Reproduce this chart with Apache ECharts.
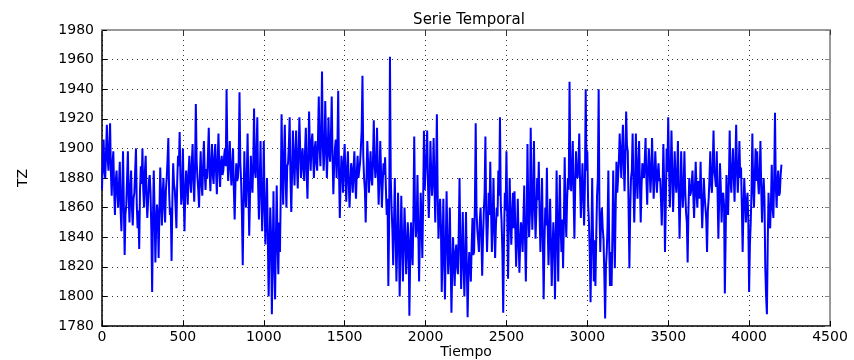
<!DOCTYPE html>
<html>
<head>
<meta charset="utf-8">
<script src="https://cdn.jsdelivr.net/npm/echarts@6/dist/echarts.min.js"></script>
<style>
  html, body { margin: 0; padding: 0; background: #fff; }
  #chart { width: 854px; height: 360px; }
</style>
</head>
<body>
<div id="chart"></div>
<script>
// Serie temporal de TZ, una muestra cada 5 unidades de tiempo
const paso = 5;
const tz = [
  1872,1895,1906,1884,1880,1898,1916,1893,1885,1902,
  1917,1884,1868,1890,1898,1872,1855,1878,1885,1870,
  1860,1876,1891,1858,1844,1870,1898,1862,1828,1855,
  1862,1880,1898,1866,1850,1874,1885,1860,1848,1866,
  1870,1885,1900,1862,1846,1858,1832,1872,1888,1876,
  1900,1872,1860,1884,1895,1868,1853,1865,1878,1882,
  1870,1845,1803,1852,1885,1858,1823,1848,1862,1855,
  1826,1858,1887,1866,1848,1870,1880,1860,1850,1872,
  1880,1892,1907,1870,1855,1860,1824,1865,1890,1876,
  1872,1860,1846,1878,1895,1888,1911,1880,1862,1870,
  1900,1868,1844,1872,1885,1876,1862,1884,1895,1878,
  1870,1890,1903,1878,1864,1886,1930,1892,1880,1872,
  1860,1882,1898,1876,1868,1888,1905,1884,1872,1886,
  1880,1896,1914,1885,1871,1890,1903,1882,1876,1894,
  1903,1884,1869,1892,1910,1886,1874,1890,1895,1882,
  1885,1895,1900,1888,1940,1896,1878,1892,1905,1886,
  1875,1888,1900,1872,1852,1876,1890,1878,1880,1892,
  1938,1890,1878,1855,1821,1862,1898,1870,1860,1882,
  1910,1872,1841,1868,1895,1880,1870,1890,1927,1885,
  1880,1898,1921,1876,1852,1878,1905,1870,1844,1866,
  1905,1862,1835,1858,1880,1840,1800,1830,1860,1842,
  1788,1826,1871,1822,1798,1840,1875,1836,1815,1850,
  1830,1870,1923,1885,1862,1894,1916,1880,1860,1888,
  1890,1902,1921,1880,1857,1884,1912,1892,1875,1896,
  1912,1888,1873,1896,1921,1900,1880,1892,1900,1886,
  1878,1898,1914,1884,1866,1892,1925,1900,1885,1904,
  1910,1895,1880,1900,1905,1890,1885,1906,1935,1902,
  1888,1910,1952,1902,1885,1898,1932,1905,1880,1896,
  1921,1898,1891,1908,1935,1895,1869,1888,1900,1906,
  1880,1900,1939,1884,1853,1878,1895,1886,1870,1892,
  1903,1880,1864,1886,1898,1878,1860,1875,1890,1884,
  1870,1886,1898,1878,1866,1884,1895,1880,1885,1890,
  1900,1912,1949,1895,1880,1872,1850,1880,1905,1890,
  1870,1884,1898,1880,1875,1892,1919,1890,1880,1888,
  1914,1885,1862,1880,1905,1884,1860,1876,1890,1882,
  1894,1872,1855,1866,1807,1850,1962,1880,1860,1845,
  1821,1850,1880,1842,1810,1836,1870,1840,1800,1832,
  1868,1840,1810,1834,1860,1842,1815,1830,1850,1838,
  1787,1826,1850,1832,1821,1855,1908,1858,1840,1848,
  1882,1846,1810,1840,1870,1852,1826,1862,1912,1872,
  1885,1895,1912,1876,1853,1872,1905,1884,1868,1880,
  1907,1876,1850,1882,1923,1868,1839,1855,1866,1848,
  1803,1830,1866,1826,1798,1835,1871,1838,1815,1828,
  1860,1826,1789,1818,1840,1822,1807,1830,1835,1820,
  1815,1842,1880,1836,1805,1828,1857,1822,1800,1826,
  1857,1820,1786,1815,1830,1822,1810,1834,1853,1828,
  1830,1862,1917,1858,1845,1838,1830,1850,1860,1842,
  1814,1838,1857,1870,1908,1852,1830,1848,1870,1855,
  1891,1858,1830,1852,1880,1846,1826,1848,1860,1854,
  1885,1868,1921,1862,1850,1830,1789,1840,1870,1858,
  1898,1855,1812,1848,1880,1852,1835,1856,1870,1846,
  1871,1845,1820,1838,1866,1840,1816,1836,1850,1844,
  1830,1852,1875,1838,1810,1848,1903,1860,1840,1856,
  1914,1870,1845,1866,1905,1862,1839,1858,1880,1865,
  1891,1855,1830,1852,1880,1840,1798,1836,1860,1848,
  1887,1848,1821,1840,1866,1835,1807,1832,1850,1838,
  1798,1836,1885,1845,1810,1850,1882,1846,1830,1852,
  1819,1850,1894,1858,1840,1866,1880,1872,1945,1885,
  1871,1886,1905,1870,1839,1875,1898,1882,1880,1888,
  1910,1878,1853,1872,1890,1868,1848,1875,1940,1885,
  1898,1862,1850,1830,1796,1835,1880,1842,1810,1838,
  1807,1840,1868,1880,1940,1858,1830,1852,1860,1846,
  1839,1815,1785,1820,1830,1848,1885,1836,1807,1830,
  1807,1842,1885,1850,1819,1858,1891,1870,1880,1892,
  1910,1895,1880,1900,1916,1890,1871,1894,1925,1902,
  1898,1860,1819,1858,1880,1885,1910,1876,1850,1872,
  1910,1885,1866,1888,1905,1876,1850,1874,1890,1884,
  1880,1892,1907,1880,1862,1884,1900,1888,1870,1882,
  1907,1886,1866,1880,1898,1884,1870,1882,1890,1878,
  1880,1866,1848,1872,1903,1876,1830,1862,1900,1884,
  1921,1888,1860,1882,1912,1885,1857,1876,1898,1880,
  1870,1882,1905,1870,1839,1866,1898,1875,1860,1872,
  1898,1872,1857,1850,1823,1858,1880,1868,1870,1876,
  1885,1868,1853,1874,1891,1870,1860,1878,1875,1866,
  1891,1866,1846,1862,1880,1868,1860,1852,1830,1858,
  1866,1880,1898,1876,1870,1888,1912,1885,1880,1874,
  1898,1870,1839,1866,1890,1874,1850,1868,1870,1862,
  1802,1840,1882,1862,1855,1878,1912,1880,1870,1886,
  1900,1882,1864,1890,1916,1886,1870,1884,1905,1880,
  1887,1862,1830,1858,1880,1866,1850,1864,1870,1852,
  1803,1835,1850,1872,1910,1876,1860,1880,1900,1878,
  1898,1878,1869,1884,1905,1872,1850,1870,1880,1866,
  1819,1800,1788,1835,1870,1852,1846,1864,1889,1860,
  1853,1880,1924,1875,1860,1878,1885,1868,1870,1882,
  1889
];
const tiempo = tz.map((_, i) => i * paso);

const xTicks = { min: 0, max: 4500, interval: 500 };
const yTicks = { min: 1780, max: 1980, interval: 20 };

const fuente = 'DejaVu Sans';
const gridDots = { show: true, lineStyle: { type: [1, 4], color: '#333', width: 1 } };
const sinSeparador = v => String(v);

const chart = echarts.init(document.getElementById('chart'), null, { renderer: 'canvas' });
chart.setOption({
  animation: false,
  backgroundColor: '#fff',
  title: {
    text: 'Serie Temporal',
    left: 464, top: 8, textAlign: 'center',
    textStyle: { fontFamily: fuente, fontSize: 15, fontWeight: 'normal', color: '#000' }
  },
  grid: { left: 102, right: 24, top: 30, bottom: 34, containLabel: false, outerBoundsMode: 'none' },
  xAxis: [
    {
      type: 'value', min: xTicks.min, max: xTicks.max, interval: xTicks.interval,
      name: 'Tiempo', nameLocation: 'middle', nameGap: 19, nameMoveOverlap: false,
      nameTextStyle: { fontFamily: fuente, fontSize: 14, color: '#000' },
      axisLine: { onZero: false, lineStyle: { color: '#000', width: 1.5 } },
      axisTick: { inside: true, length: 5, lineStyle: { color: '#000' } },
      axisLabel: { fontFamily: fuente, fontSize: 14, color: '#000', margin: 4, formatter: sinSeparador },
      splitLine: gridDots
    },
    {
      type: 'value', position: 'top', min: xTicks.min, max: xTicks.max, interval: xTicks.interval,
      axisLine: { onZero: false, lineStyle: { color: '#999', width: 2 } },
      axisTick: { inside: true, length: 5, lineStyle: { color: '#333' } },
      axisLabel: { show: false }, splitLine: { show: false }
    }
  ],
  yAxis: [
    {
      type: 'value', min: yTicks.min, max: yTicks.max, interval: yTicks.interval,
      name: 'TZ', nameLocation: 'middle', nameGap: 72, nameRotate: 90, nameMoveOverlap: false,
      nameTextStyle: { fontFamily: fuente, fontSize: 14, color: '#000' },
      axisLine: { show: true, onZero: false, lineStyle: { color: '#000', width: 1.5 } },
      axisTick: { show: true, inside: true, length: 5, lineStyle: { color: '#000' } },
      axisLabel: { fontFamily: fuente, fontSize: 14, color: '#000', margin: 8, formatter: sinSeparador },
      splitLine: gridDots
    },
    {
      type: 'value', position: 'right', min: yTicks.min, max: yTicks.max, interval: yTicks.interval,
      axisLine: { show: true, onZero: false, lineStyle: { color: '#999', width: 2 } },
      axisTick: { show: true, inside: true, length: 5, lineStyle: { color: '#888' } },
      axisLabel: { show: false }, splitLine: { show: false }
    }
  ],
  series: [{
    type: 'line',
    data: tz.map((v, i) => [tiempo[i], v]),
    showSymbol: false,
    sampling: null,
    lineStyle: { color: '#0000ff', width: 2 },
    z: 3
  }]
});
</script>
</body>
</html>
